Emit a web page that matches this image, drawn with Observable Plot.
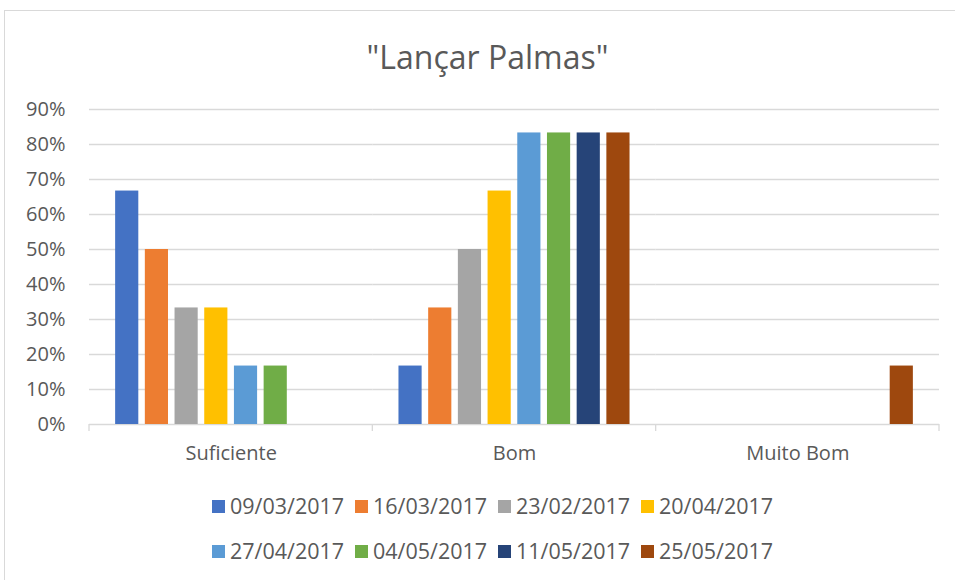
<!DOCTYPE html>
<html>
<head>
<meta charset="utf-8">
<script src="https://cdn.jsdelivr.net/npm/d3@7"></script>
<script src="https://cdn.jsdelivr.net/npm/@observablehq/plot@0.6"></script>
<style>
  html, body { margin: 0; padding: 0; background: #fff; }
  body { width: 955px; height: 580px; position: relative; overflow: hidden; font-family: "Open Sans", sans-serif; color: #595959; }
  #frame { position: absolute; left: 4px; top: 10px; width: 960px; height: 600px; border: 1.3px solid #d9d9d9; box-sizing: border-box; }
  #title { position: absolute; left: 0; top: 35px; width: 975px; text-align: center; font-size: 32px; line-height: 44px; color: #595959; }
  #chart { position: absolute; left: 0; top: 90px; }
  .legend { position: absolute; left: 212px; display: flex; font-size: 21.5px; line-height: 28px; color: #595959; white-space: nowrap; }
  .item { display: flex; align-items: center; width: 143px; }
  .sw { width: 13px; height: 13px; margin-right: 5px; flex: none; }
</style>
</head>
<body>
<div id="frame"></div>
<div id="title">"Lançar Palmas"</div>
<div id="chart"></div>
<div class="legend" id="leg1" style="top:492px"></div>
<div class="legend" id="leg2" style="top:537px"></div>
<script>
const categories = ["Suficiente", "Bom", "Muito Bom"];
const series = ["09/03/2017", "16/03/2017", "23/02/2017", "20/04/2017", "27/04/2017", "04/05/2017", "11/05/2017", "25/05/2017"];
const colors = ["#4472C4", "#ED7D31", "#A5A5A5", "#FFC000", "#5B9BD5", "#70AD47", "#264478", "#9E480E"];
// values per series, in order of categories (fractions)
const suficiente = [0.667, 0.5, 0.333, 0.333, 0.167, 0.167, 0, 0];
const bom = [0.167, 0.333, 0.5, 0.667, 0.833, 0.833, 0.833, 0.833];
const muitoBom = [0, 0, 0, 0, 0, 0, 0, 0.167];
const yTicks = [0, 0.1, 0.2, 0.3, 0.4, 0.5, 0.6, 0.7, 0.8, 0.9];

const rows = [suficiente, bom, muitoBom];
const data = [];
categories.forEach((c, ci) => series.forEach((s, si) => data.push({cat: c, series: s, value: rows[ci][si]})));

const plot = Plot.plot({
  width: 955,
  height: 385,
  marginTop: 19,
  marginBottom: 51,
  marginLeft: 89,
  marginRight: 16,
  style: {fontFamily: "'Open Sans', sans-serif", fontSize: "20px", color: "#595959", background: "transparent"},
  fx: {domain: categories, padding: 0, round: false, label: null, axis: "bottom", tickSize: 0, tickPadding: 21},
  x: {domain: series, paddingInner: 0.22, paddingOuter: 0.88, round: false, axis: null},
  y: {domain: [0, 0.9], ticks: yTicks, tickFormat: d3.format(".0%"), tickSize: 0, tickPadding: 24, label: null},
  color: {domain: series, range: colors},
  marks: [
    Plot.ruleY(yTicks, {stroke: "#d9d9d9", strokeWidth: 1.3}),
    Plot.barY(data, {fx: "cat", x: "series", y: "value", fill: "series", inset: 0})
  ]
});
document.getElementById("chart").appendChild(plot);

// category boundary tick marks on the baseline, from the fx and y scales
const fxs = plot.scale("fx");
const ys = plot.scale("y");
const band = d3.scaleBand().domain(fxs.domain).range(fxs.range).padding(0);
const y0 = ys.apply ? ys.apply(0) : ys.range[0];
const edges = [...new Set(fxs.domain.flatMap(d => [band(d), band(d) + band.bandwidth()]))];
const g = d3.select(plot).append("g");
edges.forEach(xx => {
  g.append("line").attr("x1", xx).attr("x2", xx).attr("y1", y0).attr("y2", y0 + 7)
    .attr("stroke", "#d9d9d9").attr("stroke-width", 1.3);
});

// legend
function fillLegend(id, items) {
  const el = document.getElementById(id);
  items.forEach(i => {
    const it = document.createElement("div");
    it.className = "item";
    const sw = document.createElement("span");
    sw.className = "sw";
    sw.style.background = colors[i];
    const tx = document.createElement("span");
    tx.textContent = series[i];
    it.appendChild(sw); it.appendChild(tx);
    el.appendChild(it);
  });
}
fillLegend("leg1", [0, 1, 2, 3]);
fillLegend("leg2", [4, 5, 6, 7]);
</script>
</body>
</html>
